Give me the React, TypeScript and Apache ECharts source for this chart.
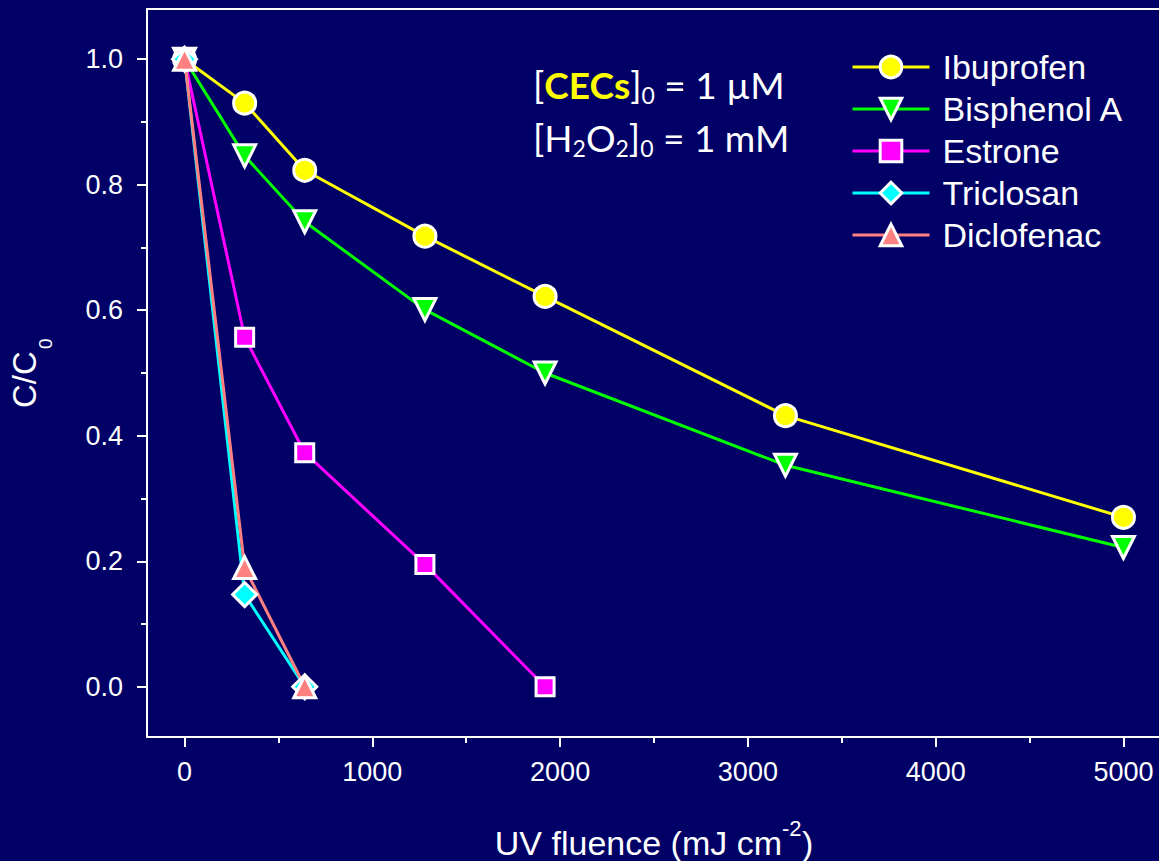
import React, { useEffect, useRef } from "react";
import * as echarts from "echarts";

const fluence = [0, 320, 640, 1280, 1920, 3200, 5000];
const ibuprofen = [1.0, 0.93, 0.823, 0.718, 0.622, 0.432, 0.27];
const bisphenolA = [1.0, 0.846, 0.741, 0.601, 0.5, 0.353, 0.222];
const estrone = [1.0, 0.557, 0.373, 0.195, 0.0];
const triclosan = [1.0, 0.147, 0.0];
const diclofenac = [1.0, 0.19, 0.0];

const xMajor = [0, 1000, 2000, 3000, 4000, 5000];
const xMinor = [500, 1500, 2500, 3500, 4500];
const yMajor = [0, 0.2, 0.4, 0.6, 0.8, 1.0];
const yMinor = [0.1, 0.3, 0.5, 0.7, 0.9];

const BG = "#000066";
const FONT = "'Liberation Sans', Arial, sans-serif";
const NOTE_FONT = "Lato, sans-serif";

function pairs(ys: number[]) {
  return ys.map((y, i) => [fluence[i], y]);
}

export default function App() {
  const ref = useRef<HTMLDivElement>(null);
  useEffect(() => {
    if (!ref.current) return;
    const chart = echarts.init(ref.current, null, { renderer: "svg" });
    const mk = (name: string, data: number[], color: string, symbol: string, size: number, rot = 0) => ({
      name,
      type: "line",
      data: pairs(data),
      symbol,
      symbolSize: size,
      symbolRotate: rot,
      lineStyle: { color, width: 3 },
      itemStyle: { color, borderColor: "#ffffff", borderWidth: 3 },
      z: 2,
    });
    const baseX = {
      type: "value",
      min: -200,
      max: 5200,
      splitLine: { show: false },
      gridIndex: 0,
    };
    const baseY = {
      type: "value",
      min: -0.08,
      max: 1.08,
      splitLine: { show: false },
      gridIndex: 0,
    };
    const white = "#ffffff";
    const txt = (text: string, x: number, y: number, size: number, align: string, rotation = 0) => ({
      type: "text",
      x,
      y,
      rotation,
      style: { text, fontSize: size, fontFamily: FONT, fill: white, align, verticalAlign: "middle" },
    });
    chart.setOption({
      animation: false,
      backgroundColor: BG,
      grid: { left: 147, right: -2, top: 9, bottom: 124, containLabel: false, outerBoundsMode: "none" },
      xAxis: [
        {
          ...baseX,
          position: "bottom",
          axisLine: { show: true, onZero: false, lineStyle: { color: white, width: 2 } },
          axisTick: { show: true, customValues: xMajor, length: 10, lineStyle: { color: white, width: 2 } },
          axisLabel: {
            customValues: xMajor,
            color: white,
            fontSize: 27,
            fontFamily: FONT,
            margin: 21,
            formatter: (v: number) => String(v),
          },
        },
        {
          ...baseX,
          position: "bottom",
          axisLine: { show: false, onZero: false },
          axisTick: { show: true, customValues: xMinor, length: 6, lineStyle: { color: white, width: 2 } },
          axisLabel: { show: false },
        },
        {
          ...baseX,
          position: "top",
          axisLine: { show: true, onZero: false, lineStyle: { color: white, width: 2 } },
          axisTick: { show: false },
          axisLabel: { show: false },
        },
      ],
      yAxis: [
        {
          ...baseY,
          position: "left",
          axisLine: { show: true, onZero: false, lineStyle: { color: white, width: 2 } },
          axisTick: { show: true, customValues: yMajor, length: 10, lineStyle: { color: white, width: 2 } },
          axisLabel: {
            customValues: yMajor,
            color: white,
            fontSize: 27,
            fontFamily: FONT,
            margin: 24,
            formatter: (v: number) => v.toFixed(1),
          },
        },
        {
          ...baseY,
          position: "left",
          axisLine: { show: false, onZero: false },
          axisTick: { show: true, customValues: yMinor, length: 6, lineStyle: { color: white, width: 2 } },
          axisLabel: { show: false },
        },
      ],
      legend: {
        orient: "vertical",
        left: 846,
        top: 45,
        itemWidth: 77,
        itemHeight: 27,
        itemGap: 8,
        lineStyle: { width: 3 },
        itemStyle: { borderColor: white, borderWidth: 3 },
        textStyle: { color: white, fontSize: 34, fontFamily: FONT, lineHeight: 33, padding: [0, 0, 0, 8] },
        data: ["Ibuprofen", "Bisphenol A", "Estrone", "Triclosan", "Diclofenac"],
      },
      graphic: [
        // x axis title with superscript
        txt("UV fluence (mJ cm", 782, 843, 34, "right"),
        txt("-2", 782, 828, 22, "left"),
        txt(")", 802, 843, 34, "left"),
        // y axis title with subscript
        txt("C/C", 24, 408, 33, "left", Math.PI / 2),
        txt("0", 45, 349, 19, "left", Math.PI / 2),
        {
          type: "text",
          left: 533,
          top: 66,
          style: {
            text: "{w|[}{y|CECs}{w|]}{s|0}{w| = 1 µM}",
            rich: {
              w: { fontSize: 37, fontFamily: NOTE_FONT, fill: white, lineHeight: 44, verticalAlign: "middle" },
              y: { fontSize: 37, fontFamily: NOTE_FONT, fontWeight: "bold", fill: "#ffff00", lineHeight: 44, verticalAlign: "middle" },
              s: { fontSize: 23, fontFamily: NOTE_FONT, fill: white, lineHeight: 14, verticalAlign: "bottom" },
            },
          },
        },
        {
          type: "text",
          left: 533,
          top: 119,
          style: {
            text: "{w|[H}{s|2}{w|O}{s|2}{w|]}{s|0}{w| = 1 mM}",
            rich: {
              w: { fontSize: 37, fontFamily: NOTE_FONT, fill: white, lineHeight: 44, verticalAlign: "middle" },
              s: { fontSize: 23, fontFamily: NOTE_FONT, fill: white, lineHeight: 14, verticalAlign: "bottom" },
            },
          },
        },
      ],
      series: [
        mk("Ibuprofen", ibuprofen, "#ffff00", "circle", 22),
        mk("Bisphenol A", bisphenolA, "#00ff00", "triangle", 22, 180),
        mk("Estrone", estrone, "#ff00ff", "rect", 18),
        mk("Triclosan", triclosan, "#00ffff", "diamond", 24),
        mk("Diclofenac", diclofenac, "#ff8080", "triangle", 22),
      ],
    });
    return () => chart.dispose();
  }, []);
  return (
    <div
      ref={ref}
      style={{ position: "absolute", left: 0, top: 0, width: 1159, height: 861 }}
    />
  );
}
